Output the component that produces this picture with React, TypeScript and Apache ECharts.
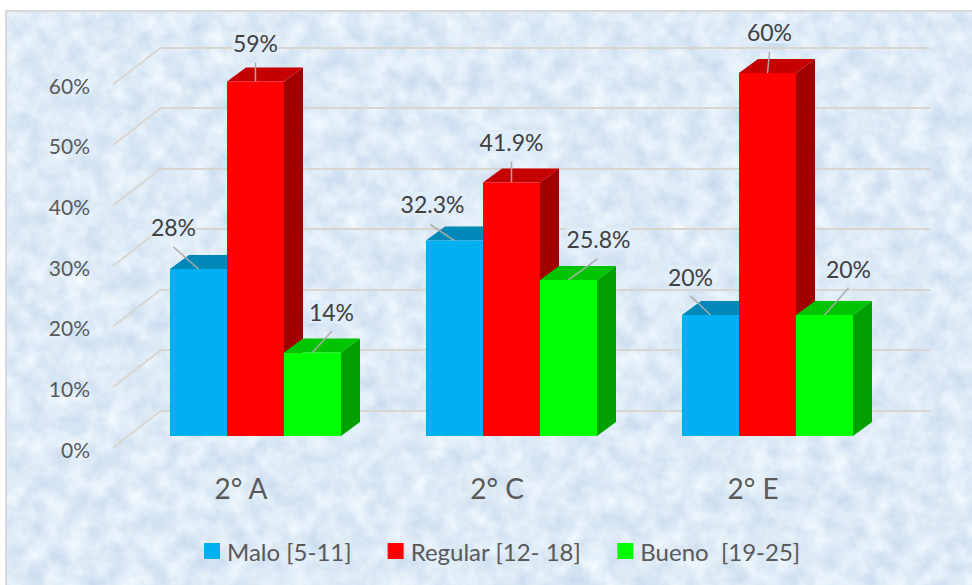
import React, { useEffect, useRef } from "react";
import * as echarts from "echarts";

const categories = ["2° A", "2° C", "2° E"];
const seriesNames = ["Malo [5-11]", "Regular [12- 18]", "Bueno  [19-25]"];
const malo = [27.6, 32.3, 20];
const regular = [58.6, 41.9, 60];
const bueno = [13.8, 25.8, 20];
const maloLabels = ["28%", "32.3%", "20%"];
const regularLabels = ["59%", "41.9%", "60%"];
const buenoLabels = ["14%", "25.8%", "20%"];
const yTicks = [0, 10, 20, 30, 40, 50, 60];

const FONT = "Lato, Carlito, 'Open Sans', sans-serif";
const faces = [
  { front: "#00B0F0", top: "#0088B8", side: "#007FAD" },
  { front: "#FF0000", top: "#C40000", side: "#A00000" },
  { front: "#00FF00", top: "#00C400", side: "#00A000" },
];
// Offsets of each data label from the top of its bar's front face
const labelOffsets = [
  [[-25, -42], [-22, -37], [-20, -38]],
  [[0, -38], [0, -41], [2, -41]],
  [[19, -41], [30, -41], [24, -46]],
];
const leaderStart = [
  [[-25, -22], [-24, -16], [-20, -19]],
  [[0, -19], [0, -21], [2, -21]],
  [[19, -21], [29, -21], [24, -27]],
];

const noise = encodeURIComponent(
  `<svg xmlns="http://www.w3.org/2000/svg" width="972" height="585"><filter id="n" color-interpolation-filters="sRGB" x="0" y="0" width="100%" height="100%"><feTurbulence type="fractalNoise" baseFrequency="0.05" numOctaves="4" seed="7"/><feColorMatrix type="matrix" values="0.22 0 0 0 0.76  0.15 0 0 0 0.845  0.08 0 0 0 0.925  0 0 0 0 1"/></filter><rect width="972" height="585" filter="url(#n)"/></svg>`
);

function barSeries(idx: number, values: number[], labels: string[]) {
  const c = faces[idx];
  return {
    type: "custom",
    name: seriesNames[idx],
    coordinateSystem: "cartesian2d",
    xAxisIndex: 2,
    yAxisIndex: 2,
    itemStyle: { color: c.front },
    z: 5 + idx,
    data: values.map((v, i) => [i, v]),
    renderItem: (params: any, api: any) => {
      const cat = api.value(0);
      const val = api.value(1);
      const top = api.coord([cat, val]);
      const base = api.coord([cat, 0]);
      const w = (api.size([1, 0])[0] * 57) / 256;
      const x0 = top[0] + (idx - 1.5) * w;
      const x1 = x0 + w;
      const dx = 19;
      const dy = -14;
      const cx = (x0 + x1) / 2;
      const off = labelOffsets[idx][cat];
      const ls = leaderStart[idx][cat];
      return {
        type: "group",
        children: [
          { type: "polygon", shape: { points: [[x1, top[1]], [x1 + dx, top[1] + dy], [x1 + dx, base[1] + dy], [x1, base[1]]] }, style: { fill: c.side } },
          { type: "polygon", shape: { points: [[x0, top[1]], [x0 + dx, top[1] + dy], [x1 + dx, top[1] + dy], [x1, top[1]]] }, style: { fill: c.top } },
          { type: "rect", shape: { x: x0, y: top[1], width: w, height: base[1] - top[1] }, style: { fill: c.front } },
          { type: "line", shape: { x1: cx + ls[0], y1: top[1] + ls[1], x2: cx, y2: top[1] }, style: { stroke: "#ABABAB", lineWidth: 1.5 } },
          {
            type: "text",
            x: cx + off[0],
            y: top[1] + off[1],
            style: {
              text: labels[cat],
              fill: "#404040",
              font: `23px ${FONT}`,
              align: "center",
              verticalAlign: "middle",
              backgroundColor: "#DFECF9",
            },
          },
        ],
      };
    },
  };
}

const option: any = {
  animation: false,
  backgroundColor: "transparent",
  textStyle: { fontFamily: FONT },
  legend: {
    data: seriesNames,
    left: 204,
    top: 539,
    padding: 0,
    itemWidth: 16,
    itemHeight: 16,
    itemGap: 36,
    icon: "rect",
    textStyle: { fontSize: 24, color: "#595959", fontFamily: FONT, padding: [0, 0, 0, 2] },
  },
  grid: [
    { left: 161, top: 47.5, width: 769, height: 363 },
    { left: 113, top: 85, width: 768, height: 364 },
    { left: 127.5, top: 73, width: 768, height: 363 },
  ],
  xAxis: [
    { gridIndex: 0, type: "category", data: categories, show: false },
    {
      gridIndex: 1,
      type: "category",
      data: categories,
      axisLine: { show: false },
      axisTick: { show: false },
      axisLabel: { fontSize: 28, color: "#595959", margin: 25, fontFamily: FONT },
    },
    { gridIndex: 2, type: "category", data: categories, show: false },
  ],
  yAxis: [
    {
      gridIndex: 0,
      type: "value",
      min: 0,
      max: 60,
      interval: 10,
      axisLine: { show: false },
      axisTick: { show: false },
      axisLabel: { show: false },
      splitLine: { show: true, lineStyle: { color: "#D9D6D2", width: 2 } },
    },
    {
      gridIndex: 1,
      type: "value",
      min: 0,
      max: 60,
      interval: 10,
      axisLine: { show: false },
      axisTick: { show: false },
      splitLine: { show: false },
      axisLabel: { fontSize: 21, color: "#595959", margin: 23, formatter: "{value}%", fontFamily: FONT },
    },
    { gridIndex: 2, type: "value", min: 0, max: 60, interval: 10, show: false },
  ],
  series: [
    {
      type: "custom",
      name: "diagonals",
      xAxisIndex: 0,
      yAxisIndex: 0,
      z: 1,
      silent: true,
      data: yTicks.map((t) => [0, t]),
      renderItem: (params: any, api: any) => {
        const p = api.coord([0, api.value(1)]);
        const x = params.coordSys.x;
        return {
          type: "line",
          shape: { x1: x, y1: p[1], x2: x - 48, y2: p[1] + 37 },
          style: { stroke: "#D9D6D2", lineWidth: 2 },
        };
      },
    },
    barSeries(0, malo, maloLabels),
    barSeries(1, regular, regularLabels),
    barSeries(2, bueno, buenoLabels),
  ],
};

export default function App() {
  const ref = useRef<HTMLDivElement>(null);
  useEffect(() => {
    document.body.style.margin = "0";
    document.body.style.background = "#fff";
    const chart = echarts.init(ref.current!, undefined, { renderer: "svg" });
    chart.setOption(option);
    return () => chart.dispose();
  }, []);
  return (
    <div style={{ position: "relative", width: 972, height: 585, overflow: "hidden", background: "#fff" }}>
      <div
        style={{
          position: "absolute",
          left: 5,
          top: 10,
          width: 967,
          height: 575,
          boxSizing: "border-box",
          borderTop: "2px solid #D9D9D9",
          borderLeft: "2px solid #D9D9D9",
          backgroundImage: `url("data:image/svg+xml,${noise}")`,
        }}
      />
      <div ref={ref} style={{ position: "absolute", left: 0, top: 0, width: 972, height: 585 }} />
    </div>
  );
}
